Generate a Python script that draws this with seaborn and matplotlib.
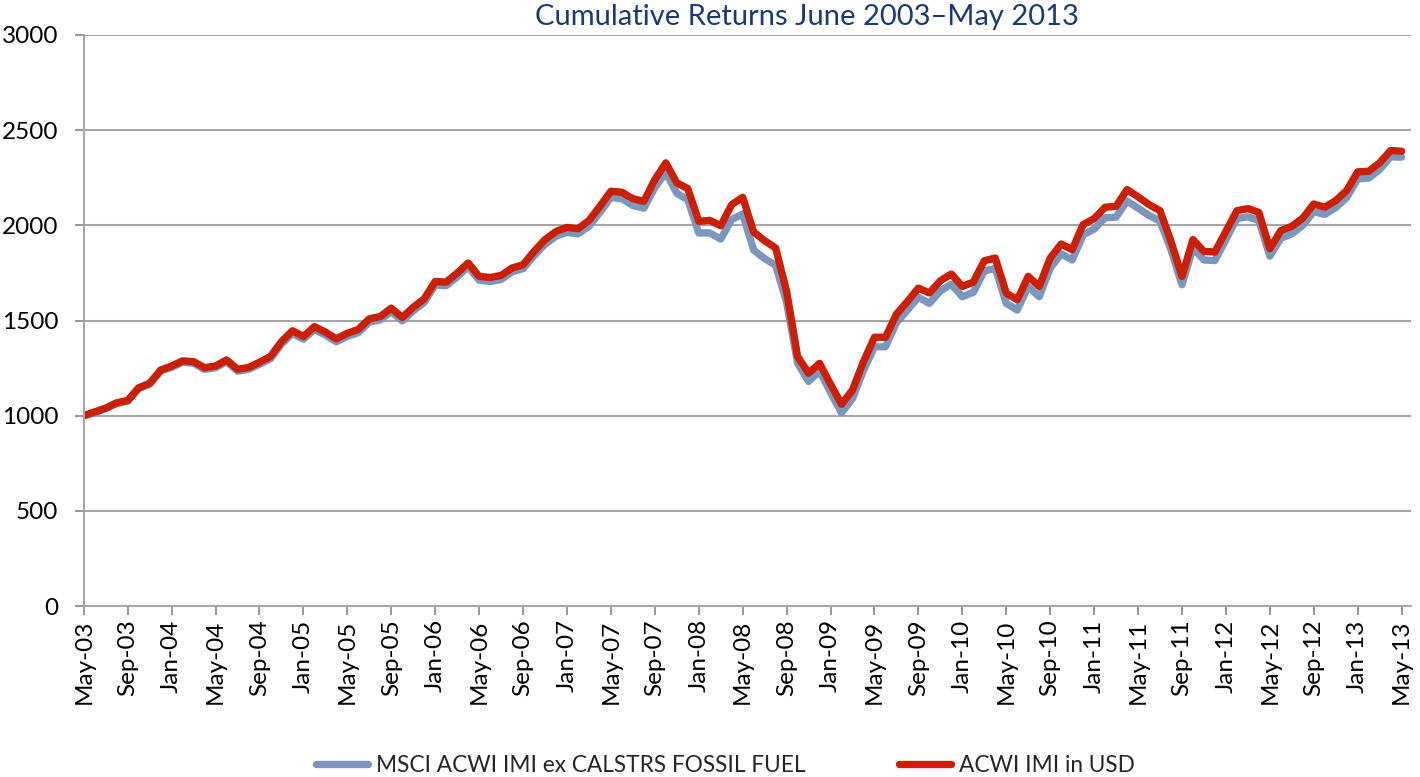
import matplotlib
matplotlib.use("Agg")
import matplotlib.pyplot as plt
import pandas as pd
import seaborn as sns

# monthly index values, May-03 .. May-13 (121 months)
ex_fossil = [
    1000, 1016, 1037, 1064, 1076, 1142, 1165, 1234, 1254, 1281,
    1276, 1243, 1252, 1284, 1234, 1243, 1270, 1299, 1376, 1432,
    1402, 1453, 1424, 1388, 1417, 1436, 1492, 1503, 1547, 1498,
    1551, 1595, 1686, 1683, 1729, 1782, 1712, 1705, 1715, 1756,
    1772, 1840, 1900, 1943, 1963, 1955, 1995, 2068, 2146, 2140,
    2104, 2090, 2198, 2277, 2168, 2135, 1960, 1960, 1928, 2030,
    2060, 1870, 1825, 1790, 1595, 1275, 1180, 1235, 1122, 1015,
    1090, 1238, 1362, 1362, 1488, 1555, 1622, 1590, 1655, 1690,
    1625, 1648, 1760, 1774, 1590, 1555, 1678, 1625, 1775, 1850,
    1818, 1950, 1980, 2040, 2043, 2128, 2090, 2052, 2022, 1872,
    1688, 1880, 1818, 1815, 1925, 2035, 2045, 2025, 1838, 1932,
    1955, 2000, 2072, 2057, 2093, 2146, 2244, 2248, 2293, 2360,
    2358,
]
acwi_imi = [
    1000, 1020, 1040, 1068, 1080, 1147, 1170, 1240, 1261, 1288,
    1284, 1252, 1261, 1293, 1244, 1253, 1281, 1311, 1389, 1446,
    1416, 1468, 1439, 1404, 1433, 1453, 1509, 1521, 1565, 1516,
    1570, 1614, 1705, 1702, 1749, 1802, 1732, 1726, 1737, 1776,
    1793, 1863, 1925, 1968, 1989, 1982, 2025, 2100, 2179, 2174,
    2140, 2126, 2240, 2328, 2223, 2193, 2021, 2026, 1998, 2109,
    2147, 1965, 1919, 1881, 1653, 1311, 1223, 1275, 1165, 1060,
    1135, 1284, 1412, 1412, 1533, 1600, 1670, 1645, 1709, 1744,
    1679, 1702, 1814, 1828, 1644, 1609, 1732, 1679, 1828, 1902,
    1872, 2004, 2035, 2095, 2100, 2188, 2150, 2109, 2077, 1916,
    1732, 1925, 1863, 1860, 1968, 2077, 2088, 2068, 1877, 1972,
    1995, 2038, 2112, 2095, 2130, 2183, 2281, 2284, 2328, 2393,
    2389,
]
series_names = ["MSCI ACWI IMI ex CALSTRS FOSSIL FUEL", "ACWI IMI in USD"]
series_colors = ["#7c97be", "#cc1f00"]

months = pd.date_range("2003-05-01", periods=len(acwi_imi), freq="MS")
tick_idx = list(range(0, len(months), 4))
tick_labels = [months[i].strftime("%b-%y") for i in tick_idx]

df = pd.concat([
    pd.DataFrame({"idx": range(len(ex_fossil)), "value": ex_fossil, "series": series_names[0]}),
    pd.DataFrame({"idx": range(len(acwi_imi)), "value": acwi_imi, "series": series_names[1]}),
])

sns.set_theme(style="white")
plt.rcParams["font.family"] = ["Lato", "DejaVu Sans"]

fig = plt.figure(figsize=(14.2, 7.77), dpi=100)
ax = fig.add_axes([0.059, 0.22, 0.935, 0.735])

sns.lineplot(data=df, x="idx", y="value", hue="series", hue_order=series_names,
             palette=series_colors, linewidth=5.3, ax=ax, legend=False)

ax.set_xlim(0, 120.9)
ax.set_ylim(0, 3000)
ax.set_yticks(range(0, 3001, 500))
ax.set_xticks(tick_idx)
ax.set_xticklabels(tick_labels, rotation=90)
ax.tick_params(axis="both", colors="#888888", labelcolor="black",
               direction="out", length=6.5, width=1.2, bottom=True, left=True)
ax.tick_params(axis="y", labelsize=17.5, pad=12)
ax.tick_params(axis="x", labelsize=17.5, pad=3)
ax.yaxis.grid(True, color="#a6a6a6", linewidth=1.5)
ax.xaxis.grid(False)
ax.set_axisbelow(True)
for side in ["top", "right"]:
    ax.spines[side].set_visible(False)
for side in ["left", "bottom"]:
    ax.spines[side].set_color("#a6a6a6")
    ax.spines[side].set_linewidth(1.5)
ax.set_xlabel("")
ax.set_ylabel("")

# title sits right of centre, as in the original Excel chart
fig.text(0.568, 0.978, "Cumulative Returns June 2003\u2013May 2013", fontsize=21,
         color="#1b3a78", ha="center", va="center")

handles = [plt.Line2D([], [], color=c, linewidth=5.3) for c in series_colors]
fig.legend(handles, series_names, loc="lower center", bbox_to_anchor=(0.511, -0.025), ncol=2,
           frameon=False, fontsize=16.3, handlelength=2.3, columnspacing=4.15, handletextpad=0.35)

fig.savefig("out.png", dpi=100)
plt.close(fig)
